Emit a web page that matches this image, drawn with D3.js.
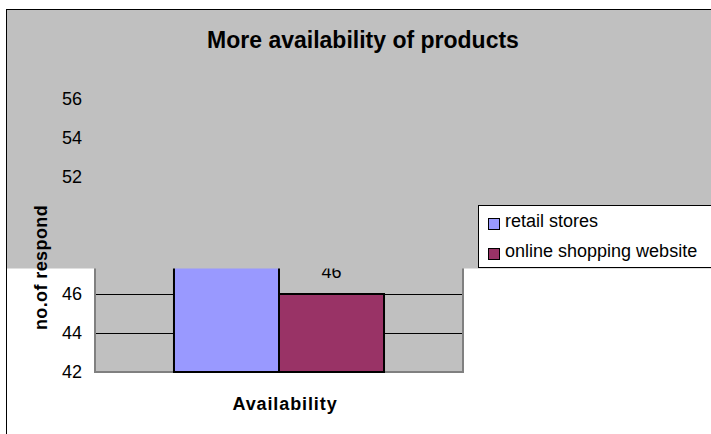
<!DOCTYPE html>
<html>
<head>
<meta charset="utf-8">
<script src="https://cdn.jsdelivr.net/npm/d3@7"></script>
<style>
  html, body { margin: 0; padding: 0; background: #fff; }
  svg { display: block; font-family: "Liberation Sans", Arial, sans-serif; }
</style>
</head>
<body>
<svg id="chart" width="711" height="434"></svg>
<script>
// Survey data: responses on product availability
const categories = ["Availability"];
const seriesNames = ["retail stores", "online shopping website"];
const seriesValues = [54, 46];
const seriesColors = ["#9999ff", "#993366"];
const tickLabels = [42, 44, 46, 52, 54, 56];
const gridTicks = [44, 46, 48, 50, 52, 54, 56];

const svg = d3.select("#chart");

// Plot area bounds
const plot = { left: 95, right: 463, top: 60, bottom: 372 };

const y = d3.scaleLinear().domain([42, 56]).range([plot.bottom, 99]);
const x0 = d3.scaleBand().domain(categories).range([plot.left, plot.right]).paddingInner(0).paddingOuter(0.376);
const x1 = d3.scaleBand().domain(seriesNames).range([0, x0.bandwidth()]).padding(0);

// Outer chart frame
svg.append("rect")
  .attr("x", 6.5).attr("y", 9.5).attr("width", 720).attr("height", 440)
  .attr("fill", "#fff").attr("stroke", "#000").attr("stroke-width", 1);

// Plot area
svg.append("rect")
  .attr("x", plot.left).attr("y", plot.top)
  .attr("width", plot.right - plot.left).attr("height", plot.bottom - plot.top)
  .attr("fill", "#c0c0c0").attr("stroke", "#808080").attr("stroke-width", 2);

// Gridlines
svg.append("g").selectAll("line").data(gridTicks).join("line")
  .attr("x1", plot.left + 1).attr("x2", plot.right - 1)
  .attr("y1", d => Math.round(y(d)) + 0.5).attr("y2", d => Math.round(y(d)) + 0.5)
  .attr("stroke", "#000").attr("stroke-width", 1);

// Bars
const groups = svg.append("g").selectAll("g").data(categories).join("g")
  .attr("transform", d => `translate(${x0(d)},0)`);

groups.selectAll("rect")
  .data(() => seriesNames.map((s, i) => ({ s, v: seriesValues[i], c: seriesColors[i] })))
  .join("rect")
  .attr("x", d => x1(d.s))
  .attr("y", d => y(d.v))
  .attr("width", x1.bandwidth())
  .attr("height", d => y(42) - y(d.v))
  .attr("fill", d => d.c)
  .attr("stroke", "#000").attr("stroke-width", 2);

// Value labels
groups.selectAll("text.val")
  .data(() => seriesNames.map((s, i) => ({ s, v: seriesValues[i] })))
  .join("text").attr("class", "val")
  .attr("x", d => x1(d.s) + x1.bandwidth() / 2)
  .attr("y", d => y(d.v) - 16)
  .attr("text-anchor", "middle")
  .attr("font-size", 18).attr("fill", "#000")
  .text(d => d.v);

// Grey chart-area panel over the upper part
svg.append("rect")
  .attr("x", 7).attr("y", 10).attr("width", 704).attr("height", 258.5)
  .attr("fill", "#c0c0c0");

// Title
svg.append("text")
  .attr("x", 363).attr("y", 48)
  .attr("text-anchor", "middle")
  .attr("font-size", 23).attr("font-weight", "bold")
  .text("More availability of products");

// Value axis labels
svg.append("g").selectAll("text").data(tickLabels).join("text")
  .attr("x", 82).attr("y", d => y(d))
  .attr("dy", "0.35em")
  .attr("text-anchor", "end")
  .attr("font-size", 18).attr("fill", "#000")
  .text(d => d);

// Value axis title
svg.append("text")
  .attr("transform", "translate(47,267.5) rotate(-90)")
  .attr("text-anchor", "middle")
  .attr("font-size", 18).attr("font-weight", "bold")
  .attr("letter-spacing", "0.4px")
  .text("no.of respond");

// Category axis title
svg.append("text")
  .attr("x", 285).attr("y", 410)
  .attr("text-anchor", "middle")
  .attr("font-size", 18).attr("font-weight", "bold")
  .attr("letter-spacing", "0.9px")
  .text(categories[0]);

// Legend
const legend = svg.append("g");
legend.append("rect")
  .attr("x", 478.5).attr("y", 205.5).attr("width", 250).attr("height", 62)
  .attr("fill", "#fff").attr("stroke", "#000").attr("stroke-width", 1);

const items = legend.selectAll("g.item").data(seriesNames).join("g").attr("class", "item")
  .attr("transform", (d, i) => `translate(488,${218 + i * 30})`);
items.append("rect")
  .attr("x", 0.5).attr("y", 0.5).attr("width", 11).attr("height", 11)
  .attr("fill", (d, i) => seriesColors[i]).attr("stroke", "#000").attr("stroke-width", 1);
items.append("text")
  .attr("x", 17).attr("y", 9)
  .attr("font-size", 18).attr("fill", "#000")
  .text(d => d);
</script>
</body>
</html>
